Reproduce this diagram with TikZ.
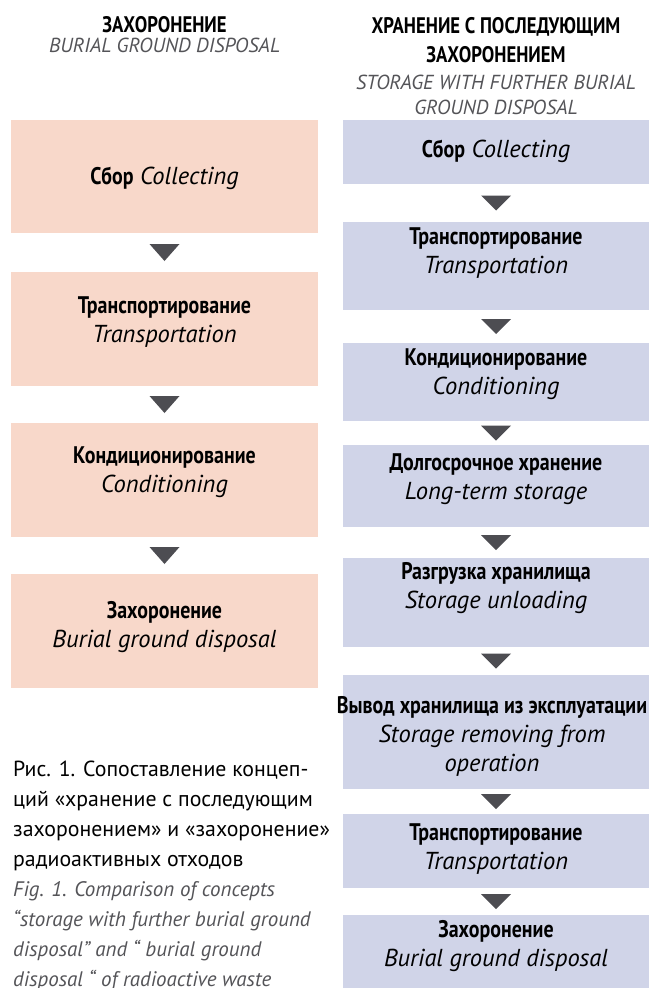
\documentclass[tikz,border=0pt]{standalone}
\usepackage{fontspec}
\setmainfont{PT Sans}
\newfontfamily\cbf[FakeStretch=0.83]{PT Sans}
\definecolor{peach}{RGB}{248,216,202}
\definecolor{lav}{RGB}{208,212,232}
\definecolor{tricol}{RGB}{77,77,82}
\definecolor{gry}{RGB}{84,84,88}
\newcommand\rbold[1]{{\cbf\bfseries #1}}
\newcommand\rital[1]{{\fontsize{24.5}{29}\selectfont\itshape #1}}
\begin{document}
\begin{tikzpicture}[x=1pt,y=-1pt,
  lbox/.style={fill=peach, inner sep=0pt, minimum width=307pt},
  rbox/.style={fill=lav, inner sep=0pt, minimum width=306pt},
  btxt/.style={align=center, inner sep=0pt, font=\fontsize{24}{29}\selectfont},
  tri/.style={fill=tricol},
  hdb/.style={anchor=base, inner sep=0pt, font=\cbf\bfseries\fontsize{22.5}{26}\selectfont},
  hdi/.style={anchor=base, inner sep=0pt, text=gry, font=\itshape\fontsize{20.3}{24}\selectfont},
  captxt/.style={anchor=base west, inner sep=0pt, font=\fontsize{21.8}{26}\selectfont},
  capital/.style={anchor=base west, inner sep=0pt, text=gry, font=\itshape\fontsize{21}{26}\selectfont}]
\useasboundingbox (0,0) rectangle (649,988);

% headers
\node[hdb] (lh1) at (164.5,32) {ЗАХОРОНЕНИЕ};
\node[hdi] (lh2) at (164.5,52) {BURIAL GROUND DISPOSAL};
\node[hdb] (rh1) at (496,33) {ХРАНЕНИЕ С ПОСЛЕДУЮЩИМ};
\node[hdb] (rh2) at (496,62) {ЗАХОРОНЕНИЕМ};
\node[hdi] (rh3) at (496,89) {STORAGE WITH FURTHER BURIAL};
\node[hdi] (rh4) at (496,114) {GROUND DISPOSAL};

% left column
\node[lbox, minimum height=113pt] (l1) at (164.5,176.5) {};
\node[btxt] (l1t) at (164.5,178) {\rbold{Сбор} \rital{Collecting}};
\node[lbox, minimum height=114pt] (l2) at (164.5,329) {};
\node[btxt] (l2t) at (164.5,322) {\rbold{Транспортирование}\\\rital{Transportation}};
\node[lbox, minimum height=114pt] (l3) at (164.5,480) {};
\node[btxt] (l3t) at (164.5,472) {\rbold{Кондиционирование}\\\rital{Conditioning}};
\node[lbox, minimum height=114pt] (l4) at (164.5,631) {};
\node[btxt] (l4t) at (164.5,627) {\rbold{Захоронение}\\\rital{Burial ground disposal}};

\foreach \a/\b/\n in {l1/l2/la1, l2/l3/la2, l3/l4/la3}{
  \path (\a.south) -- (\b.north) coordinate[midway] (\n);
  \fill[tri, shift={(\n)}] (-15,-8.5) -- (15,-8.5) -- (0,8.5) -- cycle;
}

% right column
\node[rbox, minimum height=64pt] (r1) at (496,152) {};
\node[btxt] (r1t) at (496,151) {\rbold{Сбор} \rital{Collecting}};
\node[rbox, minimum height=88pt] (r2) at (496,266) {};
\node[btxt] (r2t) at (496,253) {\rbold{Транспортирование}\\\rital{Transportation}};
\node[rbox, minimum height=78pt] (r3) at (496,382) {};
\node[btxt] (r3t) at (496,374) {\rbold{Кондиционирование}\\\rital{Conditioning}};
\node[rbox, minimum height=82pt] (r4) at (496,486) {};
\node[btxt] (r4t) at (496,479) {\rbold{Долгосрочное хранение}\\\rital{Long-term storage}};
\node[rbox, minimum height=89pt] (r5) at (496,602.5) {};
\node[btxt] (r5t) at (496,588) {\rbold{Разгрузка хранилища}\\\rital{Storage unloading}};
\node[rbox, minimum height=114pt] (r6) at (496,732) {};
\node[btxt] (r6t) at (492,736) {\rbold{Вывод хранилища из эксплуатации}\\\rital{Storage removing from}\\\rital{operation}};
\node[rbox, minimum height=74pt] (r7) at (496,851) {};
\node[btxt] (r7t) at (496,849) {\rbold{Транспортирование}\\\rital{Transportation}};
\node[rbox, minimum height=73pt] (r8) at (496,951.5) {};
\node[btxt] (r8t) at (496,946) {\rbold{Захоронение}\\\rital{Burial ground disposal}};

\foreach \a/\b/\n in {r1/r2/ra1, r2/r3/ra2, r3/r4/ra3, r4/r5/ra4, r5/r6/ra5, r6/r7/ra6, r7/r8/ra7}{
  \path (\a.south) -- (\b.north) coordinate[midway] (\n);
  \fill[tri, shift={(\n)}] (-15,-7.5) -- (15,-7.5) -- (0,7.5) -- cycle;
}

% caption
\node[captxt] (c1) at (13,776) {Рис. 1. Сопоставление концеп-};
\node[captxt] (c2) at (13,806) {ций «хранение с последующим};
\node[captxt] (c3) at (13,836) {захоронением» и «захоронение»};
\node[captxt] (c4) at (13,866) {радиоактивных отходов};
\node[capital] (c5) at (13,896) {Fig. 1. Comparison of concepts};
\node[capital] (c6) at (13,926) {“storage with further burial ground};
\node[capital] (c7) at (13,956) {disposal” and “ burial ground};
\node[capital] (c8) at (13,986) {disposal “ of radioactive waste};
\end{tikzpicture}
\end{document}
